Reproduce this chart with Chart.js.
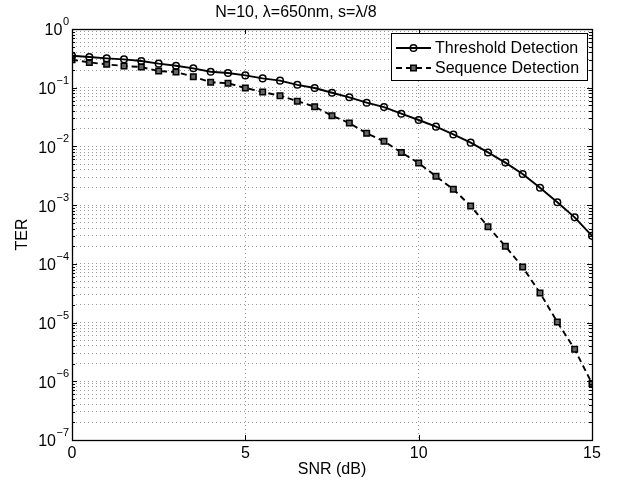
<!DOCTYPE html>
<html>
<head>
<meta charset="utf-8">
<script src="https://cdn.jsdelivr.net/npm/chart.js@4/dist/chart.umd.min.js"></script>
<style>
  html, body { margin: 0; padding: 0; background: #fff; }
  #terChart { display: block; }
</style>
</head>
<body>
<canvas id="terChart" width="628" height="487"></canvas>
<script>
const snr = [0, 0.5, 1, 1.5, 2, 2.5, 3, 3.5, 4, 4.5, 5, 5.5, 6, 6.5, 7, 7.5,
    8, 8.5, 9, 9.5, 10, 10.5, 11, 11.5, 12, 12.5, 13, 13.5, 14, 14.5, 15]

const thresholdTer = [0.351, 0.333, 0.316, 0.304, 0.285, 0.257, 0.237, 0.214, 0.187, 0.178,
    0.162, 0.144, 0.132, 0.112, 0.099, 0.082, 0.0686, 0.0556, 0.0468, 0.0361,
    0.0282, 0.0217, 0.016, 0.0116, 0.0079, 0.0053, 0.0034, 0.00198, 0.00112, 0.00062, 0.0003]

const sequenceTer = [0.30, 0.27, 0.25, 0.234, 0.225, 0.192, 0.185, 0.154, 0.124, 0.119,
    0.099, 0.0845, 0.073, 0.059, 0.0475, 0.0334, 0.025, 0.0167, 0.0122, 0.0079,
    0.0052, 0.0031, 0.00186, 0.00097, 0.00043, 0.0002, 8.8e-5, 3.2e-5, 1.02e-5, 3.5e-6, 9.2e-7]

const xTicks = [0, 5, 10, 15]
const yDecades = [-7, -6, -5, -4, -3, -2, -1, 0]
const yMinor = [1, 2, 3, 4, 5, 6, 7, 8, 9]

const seriesNames = ['Threshold Detection', 'Sequence Detection']

const FONT = 'Liberation Sans, Arial, Helvetica, sans-serif'

const toPoints = (ys) => snr.map((x, i) => ({ x: x, y: ys[i] }))

// log ticks like matlab: 1..9 x 10^k, no 1.5 steps
const buildLogTicks = () => {
    const ticks = []
    for (const e of yDecades) {
        if (e === 0) {
            ticks.push({ value: 1, major: true })
            continue
        }
        for (const m of yMinor) {
            ticks.push({ value: Number((m * Math.pow(10, e)).toPrecision(3)), major: m === 1 })
        }
    }
    return ticks
}

const matlabFrame = {
    id: 'matlabFrame',
    afterDraw(chart) {
        const ctx = chart.ctx
        const area = chart.chartArea
        const yScale = chart.scales.y
        const xScale = chart.scales.x

        ctx.save()
        ctx.strokeStyle = '#000'
        ctx.lineWidth = 1

        // inward ticks, both sides
        ctx.beginPath()
        for (const t of yScale.ticks) {
            const py = Math.round(yScale.getPixelForValue(t.value)) + 0.5
            const len = t.major ? 5 : 3
            ctx.moveTo(area.left, py)
            ctx.lineTo(area.left + len, py)
            ctx.moveTo(area.right, py)
            ctx.lineTo(area.right - len, py)
        }
        for (const v of xTicks) {
            const px = Math.round(xScale.getPixelForValue(v)) + 0.5
            ctx.moveTo(px, area.bottom)
            ctx.lineTo(px, area.bottom - 5)
            ctx.moveTo(px, area.top)
            ctx.lineTo(px, area.top + 5)
        }
        ctx.stroke()

        ctx.lineWidth = 1.3
        ctx.strokeRect(Math.round(area.left) + 0.5, Math.round(area.top) + 0.5,
            Math.round(area.right - area.left), Math.round(area.bottom - area.top))

        // y tick labels: 10 with superscript exponent
        ctx.fillStyle = '#000'
        ctx.textAlign = 'right'
        ctx.textBaseline = 'middle'
        for (const e of yDecades) {
            const py = yScale.getPixelForValue(Math.pow(10, e))
            const expText = String(e).replace('-', '\u2212')
            ctx.font = '11px ' + FONT
            const expW = ctx.measureText(expText).width
            const xr = area.left - 3
            ctx.fillText(expText, xr, py - 7)
            ctx.font = '16px ' + FONT
            ctx.fillText('10', xr - expW - 0.5, py + 2)
        }

        // legend box inside the axes, top right
        const box = { left: 391, top: 33, right: 587, bottom: 80 }
        ctx.fillStyle = '#fff'
        ctx.fillRect(box.left, box.top, box.right - box.left, box.bottom - box.top)
        ctx.lineWidth = 1
        ctx.strokeStyle = '#000'
        ctx.strokeRect(box.left + 0.5, box.top + 0.5, box.right - box.left, box.bottom - box.top)

        const rows = [48, 68]
        chart.data.datasets.forEach((ds, i) => {
            const y = rows[i]
            ctx.save()
            ctx.strokeStyle = ds.borderColor
            ctx.lineWidth = ds.borderWidth
            ctx.setLineDash(ds.borderDash || [])
            ctx.beginPath()
            ctx.moveTo(396, y)
            ctx.lineTo(431, y)
            ctx.stroke()
            ctx.restore()

            ctx.save()
            ctx.fillStyle = ds.pointBackgroundColor
            ctx.strokeStyle = ds.pointBorderColor
            ctx.lineWidth = ds.pointBorderWidth
            ctx.beginPath()
            if (ds.pointStyle === 'circle') {
                ctx.arc(413.5, y, ds.pointRadius, 0, Math.PI * 2)
            } else {
                const s = Math.SQRT1_2 * ds.pointRadius
                ctx.rect(413.5 - s, y - s, 2 * s, 2 * s)
            }
            ctx.fill()
            ctx.stroke()
            ctx.restore()

            ctx.fillStyle = '#000'
            ctx.textAlign = 'left'
            ctx.textBaseline = 'middle'
            ctx.font = '16px ' + FONT
            ctx.fillText(ds.label, 435, y + 1)
        })
        ctx.restore()
    }
}

const ctx = document.getElementById('terChart').getContext('2d')

new Chart(ctx, {
    type: 'line',
    data: {
        datasets: [{
            label: seriesNames[0],
            data: toPoints(thresholdTer),
            borderColor: '#000',
            borderWidth: 1.9,
            pointStyle: 'circle',
            pointRadius: 3.3,
            pointBorderWidth: 1.5,
            pointBorderColor: '#000',
            pointBackgroundColor: 'rgba(0,0,0,0)',
            tension: 0,
        }, {
            label: seriesNames[1],
            data: toPoints(sequenceTer),
            borderColor: '#000',
            borderWidth: 1.9,
            borderDash: [6, 4],
            pointStyle: 'rect',
            pointRadius: 3.9,
            pointBorderWidth: 1.5,
            pointBorderColor: '#000',
            pointBackgroundColor: '#666',
            tension: 0,
        }]
    },
    options: {
        responsive: false,
        animation: false,
        layout: {
            padding: { top: 0, right: 36, bottom: 0, left: 0 }
        },
        scales: {
            x: {
                type: 'linear',
                min: 0,
                max: 15,
                afterBuildTicks: (scale) => {
                    scale.ticks = xTicks.map(v => ({ value: v }))
                },
                afterFit: (scale) => { scale.height = 47 },
                grid: {
                    color: '#999',
                    lineWidth: 1,
                    drawTicks: false,
                },
                border: { display: false, dash: [1, 3] },
                ticks: {
                    padding: 4,
                    color: '#000',
                    font: { family: FONT, size: 16 },
                    maxRotation: 0,
                },
                title: {
                    display: true,
                    text: 'SNR (dB)',
                    color: '#000',
                    font: { family: FONT, size: 16 },
                    padding: { top: 0, bottom: 7.4 }
                }
            },
            y: {
                type: 'logarithmic',
                min: 1e-7,
                max: 1,
                afterBuildTicks: (scale) => {
                    scale.ticks = buildLogTicks()
                },
                afterFit: (scale) => { scale.width = 72 },
                grid: {
                    color: '#999',
                    lineWidth: 1,
                    drawTicks: false,
                },
                border: { display: false, dash: [1, 3] },
                ticks: {
                    display: false,
                    autoSkip: false,
                },
                title: {
                    display: true,
                    text: 'TER',
                    color: '#000',
                    font: { family: FONT, size: 16 },
                    padding: { top: 13.4, bottom: 0 }
                }
            }
        },
        plugins: {
            legend: { display: false },
            tooltip: { enabled: false },
            title: {
                display: true,
                text: 'N=10, \u03bb=650nm, s=\u03bb/8',
                color: '#000',
                font: { family: FONT, size: 16, weight: 'normal' },
                padding: { top: 3, bottom: 6.8 }
            }
        }
    },
    plugins: [matlabFrame]
});
</script>
</body>
</html>
